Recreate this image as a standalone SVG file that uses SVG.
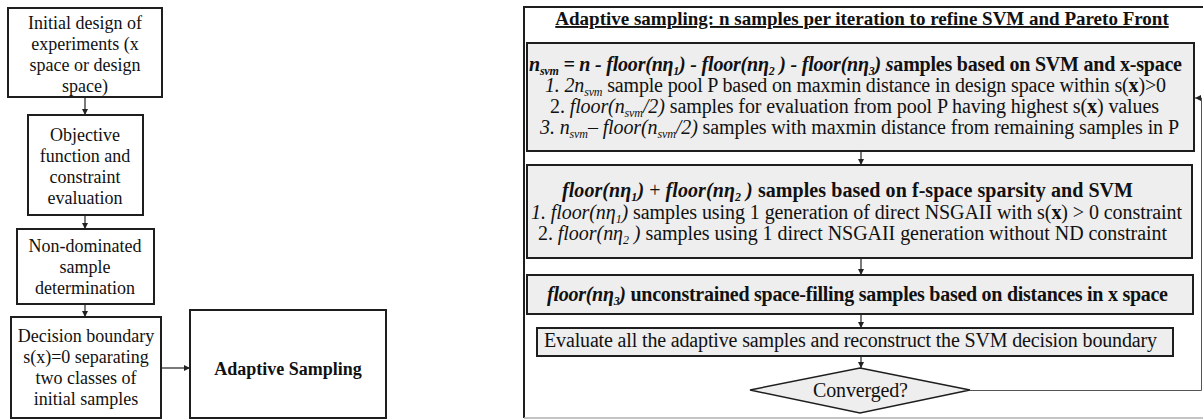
<svg xmlns="http://www.w3.org/2000/svg" width="1203" height="419" viewBox="0 0 1203 419">
  <style>
    .box { fill: #ffffff; stroke: #1e1e1e; stroke-width: 2; }
    .gbox { fill: #eeeeee; stroke: #1e1e1e; stroke-width: 2; }
    .frame { fill: none; stroke: #1e1e1e; stroke-width: 2; }
    .edge { fill: none; stroke: #222222; stroke-width: 1.2; }
    .t { font-family: "Liberation Serif", "Times New Roman", serif; fill: #111111; }
    .l { font-size: 18px; text-anchor: middle; }
    .r { font-size: 20px; }
    .b { font-weight: bold; }
    .i { font-style: italic; }
    .bi { font-weight: bold; font-style: italic; }
    .sub { font-size: 12px; }
  </style>
  <defs>
    <marker id="arrow" markerUnits="userSpaceOnUse" markerWidth="7" markerHeight="6" refX="6" refY="3" orient="auto">
      <path d="M0,0 L6,3 L0,6 z" fill="#222222"/>
    </marker>
  </defs>

  <rect width="1203" height="419" fill="#ffffff"/>

  <!-- left column: initial sampling steps -->
  <g id="initial-doe">
    <rect class="box" x="8" y="8" width="154" height="89"/>
    <text class="t l" x="85" y="29">Initial design of</text>
    <text class="t l" x="85" y="50">experiments (x</text>
    <text class="t l" x="85" y="71">space or design</text>
    <text class="t l" x="85" y="92">space)</text>
  </g>
  <g id="evaluation">
    <rect class="box" x="28" y="115" width="115" height="100"/>
    <text class="t l" x="85" y="141">Objective</text>
    <text class="t l" x="85" y="162">function and</text>
    <text class="t l" x="85" y="183">constraint</text>
    <text class="t l" x="85" y="204">evaluation</text>
  </g>
  <g id="non-dominated">
    <rect class="box" x="17" y="229" width="137" height="75"/>
    <text class="t l" x="85" y="252">Non-dominated</text>
    <text class="t l" x="85" y="273">sample</text>
    <text class="t l" x="85" y="294">determination</text>
  </g>
  <g id="decision-boundary">
    <rect class="box" x="11" y="317" width="150" height="101"/>
    <text class="t l" x="86" y="342">Decision boundary</text>
    <text class="t l" x="86" y="363">s(x)=0 separating</text>
    <text class="t l" x="86" y="384">two classes of</text>
    <text class="t l" x="86" y="405">initial samples</text>
  </g>
  <g id="adaptive-sampling">
    <rect class="box" x="190" y="310" width="196" height="108"/>
    <text class="t l b" x="288" y="375">Adaptive Sampling</text>
  </g>

  <!-- right column: adaptive sampling loop -->
  <g id="adaptive-frame">
    <path class="frame" d="M1210,7 H524 V418"/>
    <line x1="524" y1="418" x2="1203" y2="418" stroke="#b0b0b0" stroke-width="1.5"/>
    <text class="t b" x="862" y="25" font-size="19" text-anchor="middle" text-decoration="underline">Adaptive sampling: n samples per iteration to refine SVM and Pareto Front</text>
  </g>

  <g id="svm-samples">
    <rect class="gbox" x="527" y="43" width="667" height="108"/>
    <text class="t r" x="529" y="71" textLength="653" lengthAdjust="spacing"><tspan class="bi">n</tspan><tspan class="bi sub" dy="3.5">svm</tspan><tspan class="bi" dy="-3.5"> = n - floor(nη</tspan><tspan class="bi sub" dy="3.5">1</tspan><tspan class="bi" dy="-3.5">) - floor(nη</tspan><tspan class="bi sub" dy="3.5">2</tspan><tspan class="bi" dy="-3.5"> ) - floor(nη</tspan><tspan class="bi sub" dy="3.5">3</tspan><tspan class="bi" dy="-3.5">) s</tspan><tspan class="b">amples based on SVM and x-space</tspan></text>
    <text class="t r" x="545" y="92" textLength="621" lengthAdjust="spacing"><tspan class="i">1.  2n</tspan><tspan class="i sub" dy="3.5">svm</tspan><tspan dy="-3.5"> sample pool P based on maxmin distance in design space within s(</tspan><tspan class="b">x</tspan><tspan>)&gt;0</tspan></text>
    <text class="t r" x="550" y="113" textLength="609" lengthAdjust="spacing"><tspan>2.  </tspan><tspan class="i">floor(n</tspan><tspan class="i sub" dy="3.5">svm</tspan><tspan class="i" dy="-3.5">/2)</tspan><tspan> samples for evaluation from pool P having highest s(</tspan><tspan class="b">x</tspan><tspan>) values</tspan></text>
    <text class="t r" x="540" y="134" textLength="639" lengthAdjust="spacing"><tspan class="i">3.  n</tspan><tspan class="i sub" dy="3.5">svm</tspan><tspan class="i" dy="-3.5">– floor(n</tspan><tspan class="i sub" dy="3.5">svm</tspan><tspan class="i" dy="-3.5">/2)</tspan><tspan>  samples with maxmin distance from remaining samples in P</tspan></text>
  </g>

  <g id="f-space-samples">
    <rect class="gbox" x="527" y="165" width="665" height="93"/>
    <text class="t r" x="562" y="197" textLength="571" lengthAdjust="spacing"><tspan class="bi">floor(nη</tspan><tspan class="bi sub" dy="3.5">1</tspan><tspan class="bi" dy="-3.5">) </tspan><tspan>+ </tspan><tspan class="bi">floor(nη</tspan><tspan class="bi sub" dy="3.5">2</tspan><tspan class="bi" dy="-3.5"> )</tspan><tspan class="b">  samples based on f-space sparsity and SVM</tspan></text>
    <text class="t r" x="531" y="219" textLength="651" lengthAdjust="spacing"><tspan class="i">1.  floor(nη</tspan><tspan class="i sub" dy="3.5">1</tspan><tspan class="i" dy="-3.5">)</tspan><tspan>  samples using 1 generation of direct NSGAII with s(</tspan><tspan class="b">x</tspan><tspan>) &gt; 0 constraint</tspan></text>
    <text class="t r" x="538" y="240" textLength="629" lengthAdjust="spacing"><tspan>2.  </tspan><tspan class="i">floor(nη</tspan><tspan class="i sub" dy="3.5">2</tspan><tspan class="i" dy="-3.5"> )</tspan><tspan> samples using 1 direct NSGAII generation without ND constraint</tspan></text>
  </g>

  <g id="space-filling">
    <rect class="gbox" x="527" y="275" width="666" height="39"/>
    <text class="t r" x="547" y="301" textLength="621" lengthAdjust="spacing"><tspan class="bi">floor(nη</tspan><tspan class="bi sub" dy="3.5">3</tspan><tspan class="bi" dy="-3.5">)</tspan><tspan class="b">  unconstrained space-filling samples based on distances in x space</tspan></text>
  </g>

  <g id="evaluate-samples">
    <rect class="gbox" x="537" y="328" width="636" height="28"/>
    <text class="t r" x="544" y="347" textLength="613" lengthAdjust="spacing">Evaluate all the adaptive samples and reconstruct the SVM decision boundary</text>
  </g>

  <g id="converged">
    <polygon points="860,368 970,390 860,413 750,390" fill="#eeeeee" stroke="#1e1e1e" stroke-width="1.5"/>
    <text class="t r" x="860.5" y="397" text-anchor="middle" textLength="95" lengthAdjust="spacing">Converged?</text>
  </g>

  <!-- connectors -->
  <g id="connectors">
    <line class="edge" x1="85" y1="97" x2="85" y2="115" marker-end="url(#arrow)"/>
    <line class="edge" x1="85" y1="215" x2="85" y2="229" marker-end="url(#arrow)"/>
    <line class="edge" x1="85" y1="304" x2="85" y2="317" marker-end="url(#arrow)"/>
    <line class="edge" x1="161" y1="368" x2="190" y2="368" marker-end="url(#arrow)"/>
    <line class="edge" x1="861" y1="151" x2="861" y2="165" marker-end="url(#arrow)"/>
    <line class="edge" x1="861" y1="258" x2="861" y2="275" marker-end="url(#arrow)"/>
    <line class="edge" x1="861" y1="314" x2="861" y2="328" marker-end="url(#arrow)"/>
    <line class="edge" x1="861" y1="356" x2="861" y2="368" marker-end="url(#arrow)"/>
    <path d="M970,390.5 H1201.5 V98 H1195" fill="none" stroke="#555555" stroke-width="1" marker-end="url(#arrow)"/>
  </g>
</svg>
